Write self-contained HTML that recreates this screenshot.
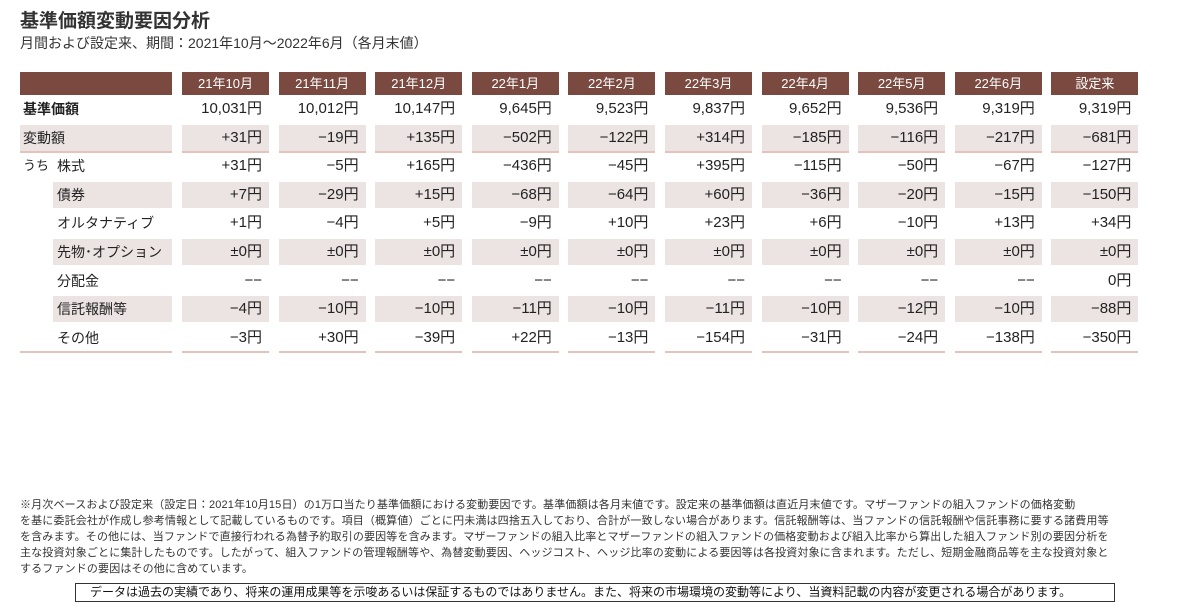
<!DOCTYPE html>
<html><head><meta charset="utf-8">
<style>
body{margin:0;width:1200px;height:605px;background:#fff;position:relative;overflow:hidden;font-family:"Liberation Sans","Noto Sans CJK JP",sans-serif;color:#222}
.a{position:absolute;white-space:nowrap}
.hd{background:#7a4a40;color:#fff;font-size:13px;text-align:center;line-height:23px;height:23px}
.sh{background:#ece4e2}
.cell{font-size:15px;text-align:right;line-height:24px;height:24px;padding-right:7px;box-sizing:border-box}
.lbl{font-size:14px;line-height:24px}
.ul{height:2px;background:#e2c4bd}
.note{font-size:11px;color:#333;line-height:16px;letter-spacing:0.15px}
</style></head><body>
<div class="a" style="left:20px;top:6px;font-size:19px;font-weight:bold;color:#333">基準価額変動要因分析</div>
<div class="a" style="left:20px;top:33px;font-size:14px;color:#333">月間および設定来、期間：2021年10月～2022年6月（各月末値）</div>
<div id="tbl"></div>
<div class="a note" style="left:20px;top:497px;">※月次ベースおよび設定来（設定日：2021年10月15日）の1万口当たり基準価額における変動要因です。基準価額は各月末値です。設定来の基準価額は直近月末値です。マザーファンドの組入ファンドの価格変動<br>を基に委託会社が作成し参考情報として記載しているものです。項目（概算値）ごとに円未満は四捨五入しており、合計が一致しない場合があります。信託報酬等は、当ファンドの信託報酬や信託事務に要する諸費用等<br>を含みます。その他には、当ファンドで直接行われる為替予約取引の要因等を含みます。マザーファンドの組入比率とマザーファンドの組入ファンドの価格変動および組入比率から算出した組入ファンド別の要因分析を<br>主な投資対象ごとに集計したものです。したがって、組入ファンドの管理報酬等や、為替変動要因、ヘッジコスト、ヘッジ比率の変動による要因等は各投資対象に含まれます。ただし、短期金融商品等を主な投資対象と<br>するファンドの要因はその他に含めています。</div>
<div class="a" style="left:75px;top:583px;width:1040px;height:19px;border:1px solid #333;box-sizing:border-box;font-size:12px;line-height:17px;padding-left:14px;color:#111">データは過去の実績であり、将来の運用成果等を示唆あるいは保証するものではありません。また、将来の市場環境の変動等により、当資料記載の内容が変更される場合があります。</div>
<script>
const columns=["21年10月","21年11月","21年12月","22年1月","22年2月","22年3月","22年4月","22年5月","22年6月","設定来"];
const rowLabels=["基準価額","変動額","株式","債券","オルタナティブ","先物･オプション","分配金","信託報酬等","その他"];
const navValues=["10,031円","10,012円","10,147円","9,645円","9,523円","9,837円","9,652円","9,536円","9,319円","9,319円"];
const changeValues=["+31円","−19円","+135円","−502円","−122円","+314円","−185円","−116円","−217円","−681円"];
const stockValues=["+31円","−5円","+165円","−436円","−45円","+395円","−115円","−50円","−67円","−127円"];
const bondValues=["+7円","−29円","+15円","−68円","−64円","+60円","−36円","−20円","−15円","−150円"];
const altValues=["+1円","−4円","+5円","−9円","+10円","+23円","+6円","−10円","+13円","+34円"];
const futValues=["±0円","±0円","±0円","±0円","±0円","±0円","±0円","±0円","±0円","±0円"];
const distValues=["−−","−−","−−","−−","−−","−−","−−","−−","−−","0円"];
const feeValues=["−4円","−10円","−10円","−11円","−10円","−11円","−10円","−12円","−10円","−88円"];
const otherValues=["−3円","+30円","−39円","+22円","−13円","−154円","−31円","−24円","−138円","−350円"];
const rows=[navValues,changeValues,stockValues,bondValues,altValues,futValues,distValues,feeValues,otherValues];
const shaded=[false,true,false,true,false,true,false,true,false];
const t=document.getElementById('tbl');
const X0=182,PITCH=96.6,CW=87,Y0=96,RH=28.6;
function mk(cls,css,txt){const d=document.createElement('div');d.className='a '+cls;d.style.cssText=css;if(txt!=null)d.textContent=txt;t.appendChild(d);return d;}
let h=mk('hd','left:20px;top:72px;width:152px;','');


columns.forEach((c,i)=>{
 const e=mk('hd',`left:${X0+i*PITCH}px;top:72px;width:${CW}px;`,c);
 
 
});
rows.forEach((vals,r)=>{
 const y=Y0+r*RH;
 const sub=r>=2;
 if(shaded[r]){
  const s=mk('sh',`left:${sub?53:20}px;top:${y}px;width:${sub?119:152}px;height:26px;`,null);
  
  
 }
 const l=mk('lbl',`left:${sub?57:23}px;top:${y+1}px;`+(r==0?'font-weight:bold;':''),rowLabels[r]);
 
 
 vals.forEach((v,i)=>{
  const c=mk('cell'+(shaded[r]?' sh':''),`left:${X0+i*PITCH}px;top:${y}px;width:${CW}px;height:26px;line-height:26px;`,v);
  
  
 });
});
const uchi=mk('lbl',`left:23px;top:${Y0+2*RH+1}px;font-size:13px;`,'うち');


[Y0+RH+26,Y0+8*RH+26].forEach(y=>{
 [[20,152]].concat(columns.map((c,i)=>[X0+i*PITCH,CW])).forEach(([x,w])=>{
  const u=mk('ul',`left:${x}px;top:${y}px;width:${w}px;`,null);
  
  
 });
});
</script>
</body></html>
